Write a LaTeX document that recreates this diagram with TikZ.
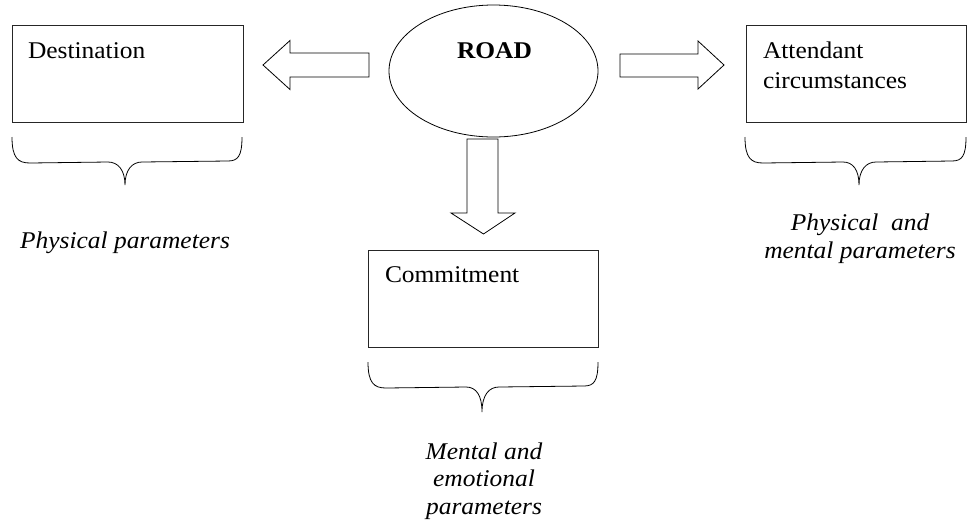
\documentclass[tikz,border=0pt]{standalone}
\usepackage{fontspec}
\setmainfont[FakeStretch=1.06]{Liberation Serif}
\begin{document}
\begin{tikzpicture}[x=1pt,y=-1pt,
  every node/.style={inner sep=0pt,outer sep=0pt},
  boxnode/.style={draw=black!85,line width=0.9pt,rectangle,minimum width=#1,minimum height=97pt},
  lbl/.style={anchor=base west,font=\fontsize{24}{28}\selectfont},
  itl/.style={align=center,font=\fontsize{24}{27.5}\selectfont\itshape},
  blockarrow/.style={draw=black,line width=0.8pt,fill=white},
  bracepath/.style={draw=black,line width=0.8pt}]
\useasboundingbox (0,0) rectangle (968,523);

% boxes
\node[boxnode=231pt] (dest) at (127.5,73.5) {};
\node[boxnode=220pt] (att) at (856,74) {};
\node[boxnode=230pt] (com) at (483,299) {};

\node[lbl] (destT) at (28,58) {Destination};
\node[lbl] (attT) at (763,58) {Attendant};
\node[lbl] (attT2) at (763,88) {circumstances};
\node[lbl] (comT) at (385,282) {Commitment};

% ellipse
\draw[line width=0.8pt] (493.5,71) ellipse [x radius=104.5, y radius=66];
\node[anchor=base,font=\fontsize{24}{28}\selectfont\bfseries] (road) at (494.5,58) {ROAD};

% block arrows
\draw[blockarrow] (369,53) -- (290,53) -- (290,40.5) -- (263,65) -- (290,89.5) -- (290,77) -- (369,77) -- cycle;
\draw[blockarrow] (620,54) -- (698,54) -- (698,41) -- (724,65) -- (698,89) -- (698,77) -- (620,77) -- cycle;
\draw[blockarrow] (467,139) -- (467,213) -- (451,213) -- (483.5,234) -- (515,213) -- (498,213) -- (498,139) -- cycle;

% braces
\draw[bracepath] (12,137) .. controls (12,158) and (18,163) .. (30,163) -- (108,162)
  .. controls (118,162) and (125,170) .. (125,185)
  .. controls (125,170) and (132,162) .. (142,162) -- (228,161)
  .. controls (238,161) and (242,156) .. (242,137);
\draw[bracepath] (745,137) .. controls (745,158) and (751,163) .. (763,163) -- (843,162)
  .. controls (853,162) and (859,170) .. (859,185)
  .. controls (859,170) and (866,162) .. (876,162) -- (952,161)
  .. controls (962,161) and (966,156) .. (966,137);
\draw[bracepath] (368,362) .. controls (368,383) and (374,388) .. (386,388) -- (466,387)
  .. controls (476,387) and (482,395) .. (482,412)
  .. controls (482,395) and (489,387) .. (499,387) -- (584,386)
  .. controls (594,386) and (598,381) .. (598,362);

% italic captions (anchor base = baseline of last line)
\node[itl,anchor=base] (capL) at (125,248) {Physical parameters};
\node[itl,anchor=base] (capR) at (860,258) {Physical\ \ and\\mental parameters};
\node[itl,anchor=base] (capC) at (484,514) {Mental and\\emotional\\parameters};
\end{tikzpicture}
\end{document}
